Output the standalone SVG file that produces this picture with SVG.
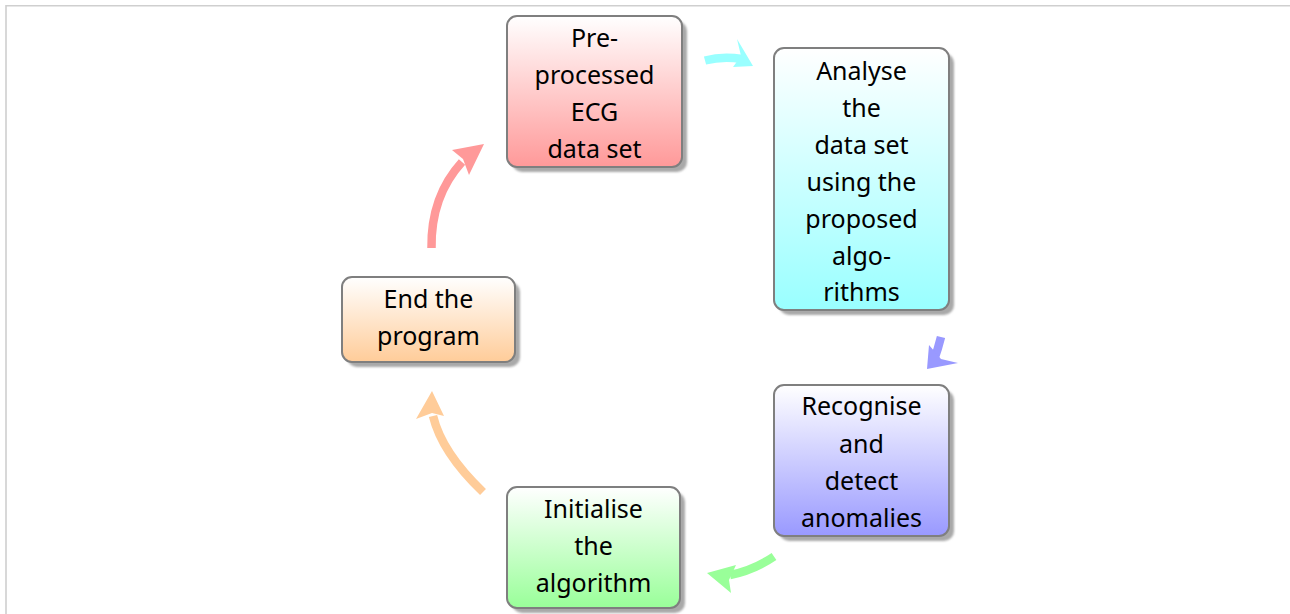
<svg xmlns="http://www.w3.org/2000/svg" width="1290" height="614" viewBox="0 0 1290 614">
  <style>
    .box { stroke: #7f7f7f; stroke-width: 2; }
    .shadow { fill: #a9a9a9; filter: url(#soft); }
    .label { font-family: "Noto Sans", "DejaVu Sans", sans-serif; font-size: 25px; fill: #000; text-anchor: middle; }
    .shaft { fill: none; stroke-width: 8.5; stroke-linecap: butt; }
  </style>
  <defs>
    <filter id="soft" x="-10%" y="-10%" width="120%" height="120%">
      <feGaussianBlur stdDeviation="1"/>
    </filter>
    <linearGradient id="gRed" x1="0" y1="0" x2="0" y2="1">
      <stop offset="0" stop-color="#ffffff"/>
      <stop offset="1" stop-color="#ff9999"/>
    </linearGradient>
    <linearGradient id="gCyan" x1="0" y1="0" x2="0" y2="1">
      <stop offset="0" stop-color="#ffffff"/>
      <stop offset="1" stop-color="#99ffff"/>
    </linearGradient>
    <linearGradient id="gBlue" x1="0" y1="0" x2="0" y2="1">
      <stop offset="0" stop-color="#ffffff"/>
      <stop offset="1" stop-color="#9999ff"/>
    </linearGradient>
    <linearGradient id="gGreen" x1="0" y1="0" x2="0" y2="1">
      <stop offset="0" stop-color="#ffffff"/>
      <stop offset="1" stop-color="#99ff99"/>
    </linearGradient>
    <linearGradient id="gOrange" x1="0" y1="0" x2="0" y2="1">
      <stop offset="0" stop-color="#ffffff"/>
      <stop offset="1" stop-color="#ffcc99"/>
    </linearGradient>
  </defs>

  <!-- page frame -->
  <path d="M6 614 V5.8 H1290" fill="none" stroke="#cfcfcf" stroke-width="1.6"/>

  <!-- circular connectors -->
  <g id="connectors">
    <g id="arrow-red" fill="#ff9999" stroke="#ff9999">
      <path class="shaft" d="M431.5 248 C431 215 441 185 462 162"/>
      <polygon stroke="none" points="484,144 452,150 463,159 469,175"/>
    </g>
    <g id="arrow-cyan" fill="#99ffff" stroke="#99ffff">
      <path class="shaft" d="M705 60.5 C718 57 730 57 742 59"/>
      <polygon stroke="none" points="753,66 737,39 741,56 733,67"/>
    </g>
    <g id="arrow-blue" fill="#9999ff" stroke="#9999ff">
      <path class="shaft" d="M941 337 C939 345 937 352 934 360"/>
      <polygon stroke="none" points="927,369 929,345 941,359 958,363"/>
    </g>
    <g id="arrow-green" fill="#99ff99" stroke="#99ff99">
      <path class="shaft" d="M774 556.5 C760 566 745 572 730 575"/>
      <polygon stroke="none" points="707,573 736,565 729,580 731,593"/>
    </g>
    <g id="arrow-orange" fill="#ffcc99" stroke="#ffcc99">
      <path class="shaft" d="M483 492 C460 470 440 445 433 416"/>
      <polygon stroke="none" points="432,391 416,419 432,413 444,416"/>
    </g>
  </g>

  <!-- nodes -->
  <g id="node-preprocessed">
    <rect class="shadow" x="512" y="21" width="175" height="151" rx="10"/>
    <rect class="box" x="507" y="16" width="175" height="151" rx="10" fill="url(#gRed)"/>
    <text class="label" x="594.5" y="47">Pre-</text>
    <text class="label" x="594.5" y="84">processed</text>
    <text class="label" x="594.5" y="121">ECG</text>
    <text class="label" x="594.5" y="158">data set</text>
  </g>

  <g id="node-analyse">
    <rect class="shadow" x="779" y="53" width="175" height="262" rx="10"/>
    <rect class="box" x="774" y="48" width="175" height="262" rx="10" fill="url(#gCyan)"/>
    <text class="label" x="861.5" y="80">Analyse</text>
    <text class="label" x="861.5" y="117">the</text>
    <text class="label" x="861.5" y="154">data set</text>
    <text class="label" x="861.5" y="191">using the</text>
    <text class="label" x="861.5" y="228">proposed</text>
    <text class="label" x="861.5" y="265">algo-</text>
    <text class="label" x="861.5" y="301">rithms</text>
  </g>

  <g id="node-recognise">
    <rect class="shadow" x="779" y="390" width="175" height="151" rx="10"/>
    <rect class="box" x="774" y="385" width="175" height="151" rx="10" fill="url(#gBlue)"/>
    <text class="label" x="861.5" y="415">Recognise</text>
    <text class="label" x="861.5" y="453">and</text>
    <text class="label" x="861.5" y="490">detect</text>
    <text class="label" x="861.5" y="527">anomalies</text>
  </g>

  <g id="node-initialise">
    <rect class="shadow" x="512" y="492" width="173" height="121" rx="10"/>
    <rect class="box" x="507" y="487" width="173" height="121" rx="10" fill="url(#gGreen)"/>
    <text class="label" x="593.5" y="518">Initialise</text>
    <text class="label" x="593.5" y="555">the</text>
    <text class="label" x="593.5" y="592">algorithm</text>
  </g>

  <g id="node-end">
    <rect class="shadow" x="347" y="282" width="173" height="85" rx="10"/>
    <rect class="box" x="342" y="277" width="173" height="85" rx="10" fill="url(#gOrange)"/>
    <text class="label" x="428.5" y="308">End the</text>
    <text class="label" x="428.5" y="345">program</text>
  </g>
</svg>
